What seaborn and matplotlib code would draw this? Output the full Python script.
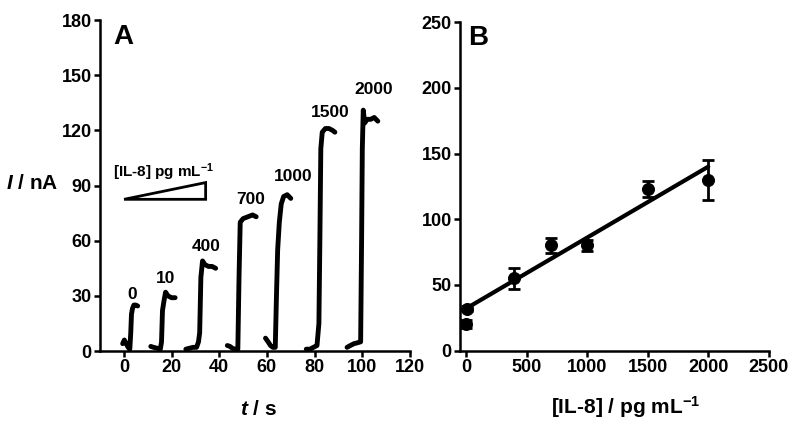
import numpy as np
import pandas as pd
import matplotlib
matplotlib.use("Agg")
import matplotlib.pyplot as plt
from matplotlib.patches import Polygon
import seaborn as sns

# Panel A: amperometric responses, one trace per IL-8 concentration
conc_labels = ["0", "10", "400", "700", "1000", "1500", "2000"]
trace_t = [
    [-0.5, 0.2, 1.0, 1.8, 2.5, 2.9, 3.2, 3.6, 4.2, 5.0, 5.8],
    [11.3, 12.5, 14.0, 15.3, 15.8, 16.2, 16.8, 17.5, 18.5, 20.0, 21.5],
    [26.0, 27.5, 29.0, 30.5, 31.3, 31.8, 32.3, 33.0, 34.0, 35.5, 37.0, 38.5],
    [43.4, 44.5, 45.5, 46.5, 47.8, 48.3, 48.8, 50.0, 52.0, 54.0, 55.5],
    [59.4, 60.5, 61.5, 62.5, 63.5, 64.0, 64.5, 65.2, 66.0, 67.0, 68.5, 70.0],
    [76.5, 78.0, 79.5, 81.0, 81.8, 82.2, 82.6, 83.2, 84.5, 86.0, 87.5, 88.5],
    [93.6, 95.0, 96.5, 98.0, 99.3, 99.7, 100.0, 100.4, 101.0, 102.0, 103.5, 105.0, 106.5],
]
trace_i = [
    [4, 6, 4, 2, 1, 10, 20, 23, 25, 25, 24.5],
    [2.5, 2, 1.5, 1, 5, 22, 27, 32, 30, 29, 29],
    [1, 1.5, 2, 2, 5, 10, 40, 49, 47, 46, 46, 45],
    [3, 2.5, 1.5, 1, 1, 40, 70, 72, 73, 74, 73],
    [7, 5, 3, 2, 2, 30, 55, 70, 80, 84, 85, 83],
    [1, 1, 2, 3, 15, 60, 110, 119, 121, 121, 120, 119],
    [2, 3, 4, 4.5, 5, 60, 110, 131, 124, 126, 126, 127, 125],
]
label_t = [3.6, 17.6, 34.7, 53.4, 71.0, 86.6, 104.6]
label_i = [30.8, 39.5, 56.7, 82.5, 95.0, 129.5, 142.0]

# Panel B: calibration
cal_conc = [0, 10, 400, 700, 1000, 1500, 2000]
cal_current = [20, 32, 55, 80, 80, 123, 130]
cal_err = [3, 2, 8, 6, 4, 6, 15]
fit_slope = 0.054
fit_intercept = 32
fit_range = [0, 2000]

sns.set_style("ticks", {"axes.edgecolor": "black", "text.color": "black",
                        "axes.labelcolor": "black", "xtick.color": "black",
                        "ytick.color": "black"})
plt.rcParams["font.family"] = ["Liberation Sans", "DejaVu Sans"]
plt.rcParams["font.weight"] = "bold"
plt.rcParams["mathtext.fontset"] = "custom"
plt.rcParams["mathtext.rm"] = "Liberation Sans:bold"
plt.rcParams["mathtext.it"] = "Liberation Sans:bold:italic"
plt.rcParams["mathtext.bf"] = "Liberation Sans:bold"

fig = plt.figure(figsize=(8, 4.26), dpi=100)
axA = fig.add_axes([0.125, 0.176, 0.3875, 0.777])
axB = fig.add_axes([0.575, 0.177, 0.386, 0.771])

rows = []
for lab, ts, vals in zip(conc_labels, trace_t, trace_i):
    for t, v in zip(ts, vals):
        rows.append({"conc": lab, "t": t, "I": v})
df = pd.DataFrame(rows)
sns.lineplot(data=df, x="t", y="I", units="conc", estimator=None, sort=False,
             color="black", lw=3.5, ax=axA)
for lab, x, y in zip(conc_labels, label_t, label_i):
    axA.text(x, y, lab, ha="center", va="center", fontsize=12.5, fontweight="bold")

# concentration wedge
axA.add_patch(Polygon([[0.1, 82.5], [34.3, 82.5], [34.3, 91.6]], closed=True,
                      fill=False, ec="black", lw=2))
axA.text(-4.4, 97.5, "[IL-8] pg mL$^{-1}$", fontsize=11, fontweight="bold",
         va="center", ha="left")
axA.text(-4.6, 171, "A", fontsize=20, fontweight="bold", va="center", ha="left")

axA.set_xlim(-10, 120)
axA.set_ylim(0, 180)
axA.set_xticks(range(0, 121, 20))
axA.set_yticks(range(0, 181, 30))
axA.set_xlabel("$t$ / s", fontsize=15, fontweight="bold", va="center")
axA.set_ylabel("$I$ / nA", fontsize=15, fontweight="bold", rotation=0,
               ha="center", va="center")
axA.xaxis.set_label_coords(0.51, -0.178)
axA.yaxis.set_label_coords(-0.218, 0.505)

# panel B
xs = np.array(fit_range)
axB.plot(xs, fit_intercept + fit_slope * xs, color="black", lw=3)
axB.errorbar(cal_conc, cal_current, yerr=cal_err, fmt="none", ecolor="black",
             elinewidth=2, capsize=4, capthick=2)
sns.scatterplot(x=cal_conc, y=cal_current, color="black", s=75, ax=axB,
                edgecolor="black", zorder=3)
axB.text(20, 238, "B", fontsize=20, fontweight="bold", va="center", ha="left")
axB.set_xlim(-50, 2500)
axB.set_ylim(0, 250)
axB.set_xticks(range(0, 2501, 500))
axB.set_yticks(range(0, 251, 50))
axB.set_xlabel("[IL-8] / pg mL$^{-1}$", fontsize=15, fontweight="bold", va="center")
axB.xaxis.set_label_coords(0.537, -0.173)

for ax in (axA, axB):
    sns.despine(ax=ax)
    for s in ("left", "bottom"):
        ax.spines[s].set_linewidth(1.8)
    ax.tick_params(width=1.8, length=4, labelsize=13, pad=2, colors="black")
    for lbl in ax.get_xticklabels() + ax.get_yticklabels():
        lbl.set_fontweight("bold")

fig.savefig("out.png", dpi=100)
